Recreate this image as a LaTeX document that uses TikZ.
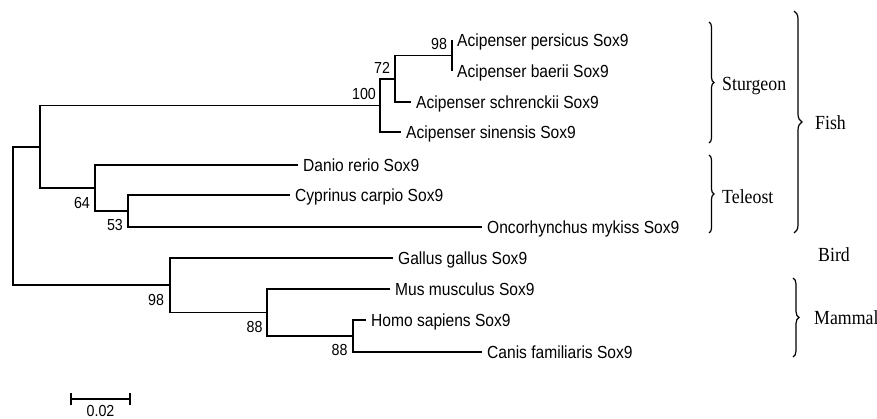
\documentclass[tikz,border=0pt]{standalone}
\usepackage{fontspec}
\setmainfont{Liberation Serif}[FakeStretch=0.89]
\newfontfamily\treefont{Liberation Sans}[FakeStretch=0.89]
\usetikzlibrary{decorations.pathreplacing}

\tikzset{
  branch/.style={line width=1.6pt},
  leaf/.style={anchor=west, inner xsep=5pt, inner ysep=0pt, text height=12.5pt, text depth=0pt,
    font=\treefont\fontsize{17.5}{20}\selectfont},
  boot/.style={inner sep=0pt, text height=11.5pt, text depth=0pt,
    font=\treefont\fontsize{16}{18}\selectfont},
  group/.style={anchor=west, inner sep=0pt, text height=13pt, text depth=0pt,
    font=\fontsize{20}{22}\selectfont},
  grouping/.style={line width=1.2pt, decorate, decoration={brace, amplitude=#1}},
}

\begin{document}
\begin{tikzpicture}[x=1pt,y=-1pt]
\useasboundingbox (0,0) rectangle (877,418);

% Leaves
\foreach \name/\x/\y/\txt in {persicus/452/40/Acipenser persicus Sox9,
  baerii/452/71/Acipenser baerii Sox9,
  schrenckii/411/102/Acipenser schrenckii Sox9,
  sinensis/401/132/Acipenser sinensis Sox9,
  danio/298/165/Danio rerio Sox9,
  cyprinus/290/195/Cyprinus carpio Sox9,
  oncorhynchus/482/227/Oncorhynchus mykiss Sox9,
  gallus/393/258/Gallus gallus Sox9,
  mus/390/289/Mus musculus Sox9,
  homo/366/320/Homo sapiens Sox9,
  canis/482/352/Canis familiaris Sox9}{
\node [leaf] (\name) at (\x,\y) {\txt};
}

% Inner nodes of the tree
\coordinate (n98a) at (452,55.5);
\coordinate (n72) at (395,78.75);
\coordinate (n100) at (380,105.4);
\coordinate (n53) at (128,211);
\coordinate (n64) at (95,188);
\coordinate (fish) at (40,146.7);
\coordinate (n88b) at (353,336);
\coordinate (n88a) at (267,312.5);
\coordinate (n98b) at (170,285.25);
\coordinate (root) at (13,216);

% Branches
\draw [branch] (persicus.west) -| (n98a) |- (baerii.west);
\draw [branch] (n98a) -| (n72) |- (schrenckii.west);
\draw [branch] (n72) -| (n100) |- (sinensis.west);
\draw [branch] (cyprinus.west) -| (n53) |- (oncorhynchus.west);
\draw [branch] (danio.west) -| (n64) |- (n53);
\draw [branch] (n100) -| (fish) |- (n64);
\draw [branch] (homo.west) -| (n88b) |- (canis.west);
\draw [branch] (mus.west) -| (n88a) |- (n88b);
\draw [branch] (gallus.west) -| (n98b) |- (n88a);
\draw [branch] (fish) -| (root) |- (n98b);

% Bootstrap values
\node [boot] (b98a) at (439,44) {98};
\node [boot] (b72) at (382,67.5) {72};
\node [boot] (b100) at (364,94) {100};
\node [boot] (b64) at (82,202.5) {64};
\node [boot] (b53) at (115,225) {53};
\node [boot] (b98b) at (156,299.5) {98};
\node [boot] (b88a) at (254.5,326.5) {88};
\node [boot] (b88b) at (339.5,350) {88};

% Scale bar
\coordinate (sbl) at (71,399);
\coordinate (sbr) at (130,399);
\draw [branch] (sbl) -- (sbr);
\draw [line width=1.3pt] (71,393) -- (71,405);
\draw [line width=1.3pt] (130,393) -- (130,405);
\node [boot] (scale) at (100.5,410.5) {0.02};

% Groups
\draw [grouping=5pt] (709,22) -- (709,143);
\draw [grouping=5pt] (709,155) -- (709,233);
\draw [grouping=8pt] (794,11) -- (794,233);
\draw [grouping=6pt] (793,278) -- (793,357);
\node [group] (sturgeon) at (722,83.5) {Sturgeon};
\node [group] (teleost) at (722,197) {Teleost};
\node [group] (fishlabel) at (815,123) {Fish};
\node [group] (bird) at (818,255) {Bird};
\node [group] (mammal) at (814,318) {Mammal};
\end{tikzpicture}
\end{document}
